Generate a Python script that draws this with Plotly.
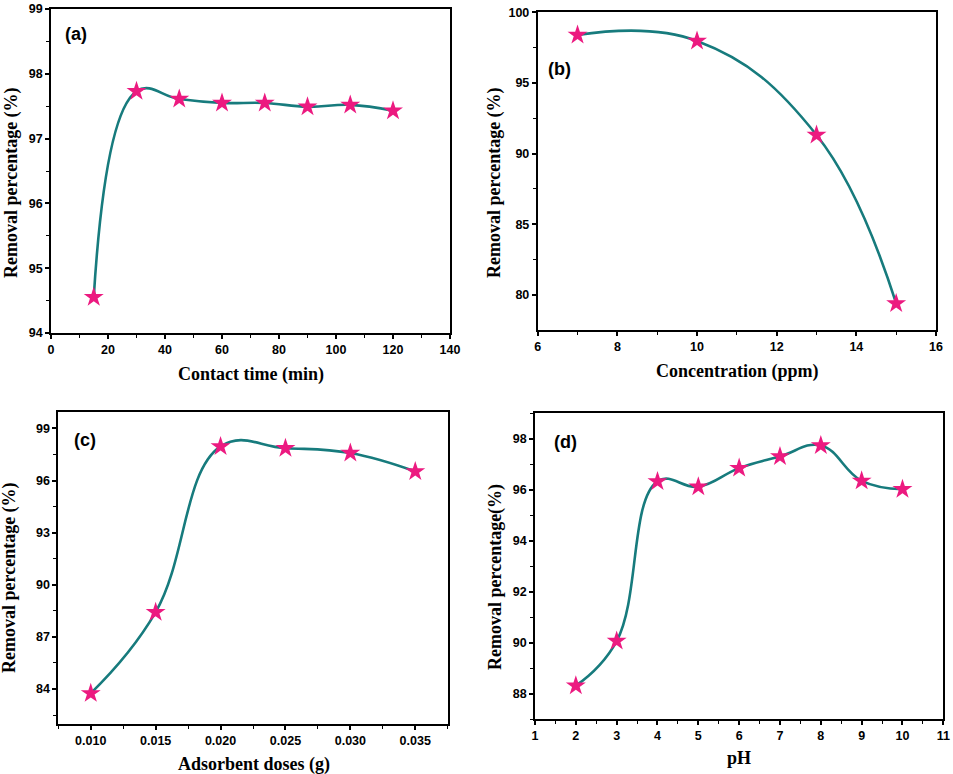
import plotly.graph_objects as go

# ---------------- data ----------------
time_min = [15, 30, 45, 60, 75, 90, 105, 120]
removal_time = [94.55, 97.73, 97.61, 97.55, 97.55, 97.49, 97.52, 97.43]

conc_ppm = [7, 10, 13, 15]
removal_conc = [98.4, 97.97, 91.32, 79.4]

dose_g = [0.010, 0.015, 0.020, 0.025, 0.030, 0.035]
removal_dose = [83.75, 88.42, 97.96, 97.86, 97.58, 96.52]

ph_vals = [2, 3, 4, 5, 6, 7, 8, 9, 10]
removal_ph = [88.32, 90.07, 96.33, 96.12, 96.85, 97.31, 97.74, 96.35, 96.02]

W, H = 953, 774
LINE_COLOR = "#177b7d"
STAR_COLOR = "#ec1a80"
SERIF = "Liberation Serif"
SANS = "Liberation Sans"

def px_x(v):
    return v / W

def px_y(v):
    return 1 - v / H

panels = [
    dict(x=time_min, y=removal_time, xd=(51, 450), yd=(9, 333),
         xr=[0, 140], xt=list(range(0, 141, 20)), xminor=10, xfmt=None,
         yr=[94, 99], yt=[94, 95, 96, 97, 98, 99], yminor=0.5,
         xtitle="Contact time (min)", xtpos=(251, 374),
         ytitle="Removal percentage (%)", ytpos=(12, 183),
         label="(a)", lpos=(63, 34)),
    dict(x=conc_ppm, y=removal_conc, xd=(537.7, 936), yd=(12.3, 330),
         xr=[6, 16], xt=[6, 8, 10, 12, 14, 16], xminor=1, xfmt=None,
         yr=[77.52, 100], yt=[80, 85, 90, 95, 100], yminor=2.5,
         xtitle="Concentration (ppm)", xtpos=(737, 371),
         ytitle="Removal percentage (%)", ytpos=(494, 182),
         label="(b)", lpos=(546, 69)),
    dict(x=dose_g, y=removal_dose, xd=(58.3, 447.7), yd=(411.7, 724.3),
         xr=[0.0075, 0.0375], xt=[0.010, 0.015, 0.020, 0.025, 0.030, 0.035], xminor=0.0025, xfmt=".3f",
         yr=[81.97, 99.96], yt=[84, 87, 90, 93, 96, 99], yminor=1.5,
         xtitle="Adsorbent doses (g)", xtpos=(254, 764),
         ytitle="Removal percentage (%)", ytpos=(9, 578),
         label="(c)", lpos=(72, 440)),
    dict(x=ph_vals, y=removal_ph, xd=(535, 943.3), yd=(413.3, 719.3),
         xr=[1, 11], xt=list(range(1, 12)), xminor=0.5, xfmt=None,
         yr=[87, 99], yt=[88, 90, 92, 94, 96, 98], yminor=1,
         xtitle="pH", xtpos=(739, 758),
         ytitle="Removal percentage(%)", ytpos=(495, 577),
         label="(d)", lpos=(552, 442)),
]

fig = go.Figure()
annotations = []
layout = {}

for i, p in enumerate(panels, start=1):
    xa = "xaxis" if i == 1 else f"xaxis{i}"
    ya = "yaxis" if i == 1 else f"yaxis{i}"
    xref = "x" if i == 1 else f"x{i}"
    yref = "y" if i == 1 else f"y{i}"

    fig.add_trace(go.Scatter(
        x=p["x"], y=p["y"], mode="lines+markers",
        line=dict(color=LINE_COLOR, width=2.6, shape="spline", smoothing=1.2),
        marker=dict(symbol="star", size=15, color=STAR_COLOR, line=dict(width=0)),
        xaxis=xref, yaxis=yref, showlegend=False, cliponaxis=False,
    ))

    common = dict(
        showgrid=False, zeroline=False, showline=True, linecolor="black",
        linewidth=1.8, mirror=True, ticks="outside", ticklen=4, tickwidth=1.6,
        tickcolor="black", automargin=False,
        tickfont=dict(family=SANS, size=12.5, color="black", weight="bold"),
    )
    layout[xa] = dict(
        common, domain=[px_x(p["xd"][0]), px_x(p["xd"][1])],
        range=p["xr"], tickvals=p["xt"], anchor=yref,
        minor=dict(dtick=p["xminor"], tick0=p["xr"][0], ticks="outside",
                   ticklen=3, tickwidth=1.4, tickcolor="black"),
    )
    if p["xfmt"]:
        layout[xa]["tickformat"] = p["xfmt"]
    layout[ya] = dict(
        common, domain=[px_y(p["yd"][1]), px_y(p["yd"][0])],
        range=p["yr"], tickvals=p["yt"], anchor=xref,
        minor=dict(dtick=p["yminor"], tick0=p["yt"][0], ticks="outside",
                   ticklen=3, tickwidth=1.4, tickcolor="black"),
    )

    annotations.append(dict(
        text="<b>" + p["xtitle"] + "</b>", xref="paper", yref="paper",
        x=px_x(p["xtpos"][0]), y=px_y(p["xtpos"][1]),
        xanchor="center", yanchor="middle", showarrow=False,
        font=dict(family=SERIF, size=18, color="black"),
    ))
    annotations.append(dict(
        text="<b>" + p["ytitle"] + "</b>", xref="paper", yref="paper",
        x=px_x(p["ytpos"][0]), y=px_y(p["ytpos"][1]),
        xanchor="center", yanchor="middle", showarrow=False, textangle=-90,
        font=dict(family=SERIF, size=18, color="black"),
    ))
    annotations.append(dict(
        text="<b>" + p["label"] + "</b>", xref="paper", yref="paper",
        x=px_x(p["lpos"][0]), y=px_y(p["lpos"][1]),
        xanchor="left", yanchor="middle", showarrow=False,
        font=dict(family=SANS, size=18, color="black"),
    ))

fig.update_layout(
    width=W, height=H, margin=dict(l=0, r=0, t=0, b=0, autoexpand=False),
    paper_bgcolor="white", plot_bgcolor="white",
    annotations=annotations, **layout,
)

fig.write_html(
    "out.html",
    config={"displayModeBar": False},
    post_script="document.body.style.margin='0';document.body.style.padding='0';"
                "document.body.style.overflow='hidden';",
)
